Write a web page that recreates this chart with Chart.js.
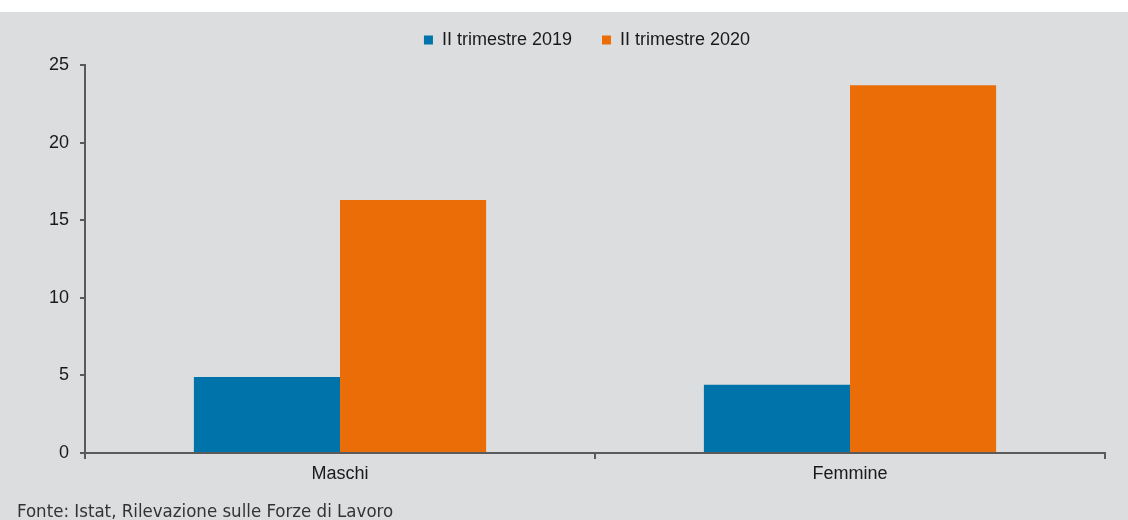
<!DOCTYPE html>
<html>
<head>
<meta charset="utf-8">
<script src="https://cdn.jsdelivr.net/npm/chart.js@4"></script>
<style>
  html, body { margin: 0; padding: 0; background: #fff; }
  #wrap { width: 1128px; height: 520px; position: relative; }
</style>
</head>
<body>
<div id="wrap"><canvas id="myChart" width="1128" height="520"></canvas></div>
<script>
var categories = ['Maschi', 'Femmine'];
var trim2019 = [4.9, 4.4];
var trim2020 = [16.3, 23.7];
var yTicks = [0, 5, 10, 15, 20, 25];
var fonte = 'Fonte: Istat, Rilevazione sulle Forze di Lavoro';

var axisColor = '#5a5a5a';
var labelFont = { family: '"Liberation Sans", Arial, sans-serif', size: 18 };

// grey panel behind the chart, legend placement and the source note underneath
var panel = {
  id: 'panel',
  beforeLayout: function (chart) {
    // a bit more room between the legend and the plot
    var lg = chart.legend;
    if (lg && !lg._taller) {
      var fit = lg.fit;
      lg.fit = function () {
        fit.call(this);
        this.height += 6;
      };
      lg._taller = true;
    }
  },
  afterLayout: function (chart) {
    // centre the legend over the tick labels + plot instead of the full canvas
    if (chart.legend) chart.legend.left = 69;
  },
  beforeDraw: function (chart) {
    var c = chart.ctx;
    c.save();
    c.fillStyle = '#dcdddf';
    c.fillRect(0, 12, chart.width, chart.height - 12);
    c.restore();
  },
  afterDraw: function (chart) {
    var c = chart.ctx;
    c.save();
    c.fillStyle = '#333333';
    c.font = '18.5px "Liberation Sans Narrow", "DejaVu Sans Condensed", sans-serif';
    c.textBaseline = 'alphabetic';
    c.fillText(fonte, 17, 517);
    c.restore();
  }
};

var ctx = document.getElementById('myChart').getContext('2d');
var myChart = new Chart(ctx, {
  type: 'bar',
  data: {
    labels: categories,
    datasets: [{
      label: 'II trimestre 2019',
      data: trim2019,
      backgroundColor: '#0073aa',
      barPercentage: 1,
      categoryPercentage: 0.573
    }, {
      label: 'II trimestre 2020',
      data: trim2020,
      backgroundColor: '#ea6d08',
      barPercentage: 1,
      categoryPercentage: 0.573
    }]
  },
  options: {
    responsive: false,
    animation: false,
    layout: { padding: { top: 1, right: 23, left: 0, bottom: 0 } },
    plugins: {
      tooltip: { enabled: false },
      legend: {
        position: 'top',
        labels: {
          boxWidth: 9,
          boxHeight: 9,
          padding: 30,
          color: '#1a1a1a',
          font: labelFont
        }
      }
    },
    scales: {
      x: {
        offset: true,
        grid: {
          offset: true,
          drawOnChartArea: false,
          drawTicks: true,
          tickLength: 6,
          color: axisColor,
          lineWidth: 2
        },
        border: { color: axisColor, width: 2 },
        ticks: {
          padding: 4,
          color: '#1a1a1a',
          font: labelFont
        },
        afterFit: function (scale) { scale.height = 67; }
      },
      y: {
        min: 0,
        max: 25,
        afterBuildTicks: function (scale) {
          scale.ticks = yTicks.map(function (v) { return { value: v }; });
        },
        grid: {
          drawOnChartArea: false,
          drawTicks: true,
          tickLength: 5,
          color: axisColor,
          lineWidth: 2
        },
        border: { color: axisColor, width: 2 },
        ticks: {
          padding: 11,
          color: '#1a1a1a',
          font: labelFont
        },
        afterFit: function (scale) { scale.width = 85; }
      }
    }
  },
  plugins: [panel]
});
</script>
</body>
</html>
